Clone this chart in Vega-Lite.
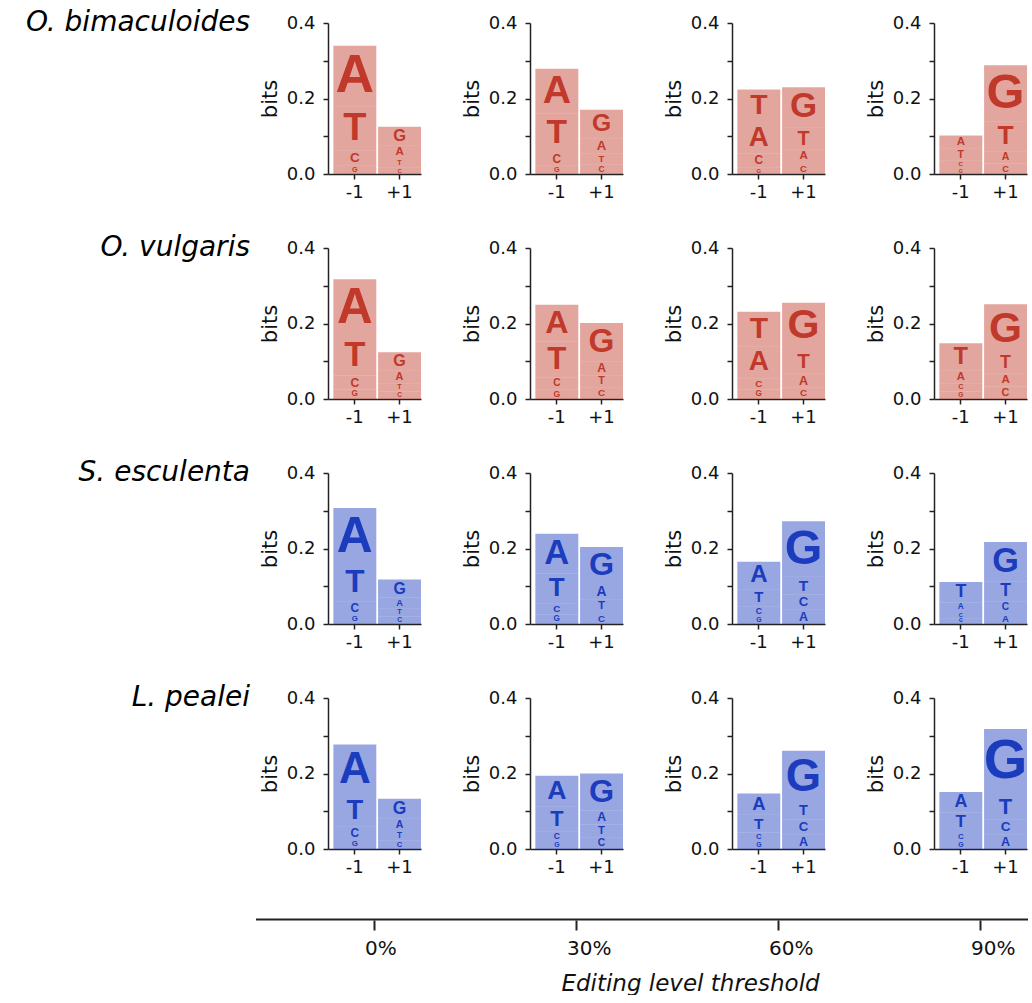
{
  "$schema": "https://vega.github.io/schema/vega-lite/v6.json",
  "background": "white",
  "padding": {"left": 25, "top": 9, "right": 0, "bottom": 0},
  "config": {
    "view": {"stroke": null},
    "font": "DejaVu Sans",
    "axis": {"domainColor": "#222", "tickColor": "#222", "labelColor": "#111", "titleColor": "#111", "domainWidth": 1.5, "tickWidth": 1.5, "grid": false, "labelFont": "DejaVu Sans", "titleFont": "DejaVu Sans"}
  },
  "spacing": 40,
  "vconcat": [
    {
      "data": {"values": [
        {"species": "O. bimaculoides", "threshold": "0%", "pos": "-1", "base": "A", "bits": 0.162},
        {"species": "O. bimaculoides", "threshold": "0%", "pos": "-1", "base": "T", "bits": 0.115},
        {"species": "O. bimaculoides", "threshold": "0%", "pos": "-1", "base": "C", "bits": 0.041},
        {"species": "O. bimaculoides", "threshold": "0%", "pos": "-1", "base": "G", "bits": 0.022},
        {"species": "O. bimaculoides", "threshold": "0%", "pos": "+1", "base": "G", "bits": 0.050},
        {"species": "O. bimaculoides", "threshold": "0%", "pos": "+1", "base": "A", "bits": 0.035},
        {"species": "O. bimaculoides", "threshold": "0%", "pos": "+1", "base": "T", "bits": 0.022},
        {"species": "O. bimaculoides", "threshold": "0%", "pos": "+1", "base": "C", "bits": 0.018},
        {"species": "O. bimaculoides", "threshold": "30%", "pos": "-1", "base": "A", "bits": 0.119},
        {"species": "O. bimaculoides", "threshold": "30%", "pos": "-1", "base": "T", "bits": 0.102},
        {"species": "O. bimaculoides", "threshold": "30%", "pos": "-1", "base": "C", "bits": 0.036},
        {"species": "O. bimaculoides", "threshold": "30%", "pos": "-1", "base": "G", "bits": 0.022},
        {"species": "O. bimaculoides", "threshold": "30%", "pos": "+1", "base": "G", "bits": 0.075},
        {"species": "O. bimaculoides", "threshold": "30%", "pos": "+1", "base": "A", "bits": 0.040},
        {"species": "O. bimaculoides", "threshold": "30%", "pos": "+1", "base": "T", "bits": 0.029},
        {"species": "O. bimaculoides", "threshold": "30%", "pos": "+1", "base": "C", "bits": 0.026},
        {"species": "O. bimaculoides", "threshold": "60%", "pos": "-1", "base": "T", "bits": 0.086},
        {"species": "O. bimaculoides", "threshold": "60%", "pos": "-1", "base": "A", "bits": 0.084},
        {"species": "O. bimaculoides", "threshold": "60%", "pos": "-1", "base": "C", "bits": 0.036},
        {"species": "O. bimaculoides", "threshold": "60%", "pos": "-1", "base": "G", "bits": 0.018},
        {"species": "O. bimaculoides", "threshold": "60%", "pos": "+1", "base": "G", "bits": 0.106},
        {"species": "O. bimaculoides", "threshold": "60%", "pos": "+1", "base": "T", "bits": 0.060},
        {"species": "O. bimaculoides", "threshold": "60%", "pos": "+1", "base": "A", "bits": 0.035},
        {"species": "O. bimaculoides", "threshold": "60%", "pos": "+1", "base": "C", "bits": 0.029},
        {"species": "O. bimaculoides", "threshold": "90%", "pos": "-1", "base": "A", "bits": 0.035},
        {"species": "O. bimaculoides", "threshold": "90%", "pos": "-1", "base": "T", "bits": 0.032},
        {"species": "O. bimaculoides", "threshold": "90%", "pos": "-1", "base": "C", "bits": 0.019},
        {"species": "O. bimaculoides", "threshold": "90%", "pos": "-1", "base": "G", "bits": 0.016},
        {"species": "O. bimaculoides", "threshold": "90%", "pos": "+1", "base": "G", "bits": 0.148},
        {"species": "O. bimaculoides", "threshold": "90%", "pos": "+1", "base": "T", "bits": 0.080},
        {"species": "O. bimaculoides", "threshold": "90%", "pos": "+1", "base": "A", "bits": 0.032},
        {"species": "O. bimaculoides", "threshold": "90%", "pos": "+1", "base": "C", "bits": 0.028},
        {"species": "O. vulgaris", "threshold": "0%", "pos": "-1", "base": "A", "bits": 0.150},
        {"species": "O. vulgaris", "threshold": "0%", "pos": "-1", "base": "T", "bits": 0.105},
        {"species": "O. vulgaris", "threshold": "0%", "pos": "-1", "base": "C", "bits": 0.037},
        {"species": "O. vulgaris", "threshold": "0%", "pos": "-1", "base": "G", "bits": 0.025},
        {"species": "O. vulgaris", "threshold": "0%", "pos": "+1", "base": "G", "bits": 0.049},
        {"species": "O. vulgaris", "threshold": "0%", "pos": "+1", "base": "A", "bits": 0.033},
        {"species": "O. vulgaris", "threshold": "0%", "pos": "+1", "base": "T", "bits": 0.022},
        {"species": "O. vulgaris", "threshold": "0%", "pos": "+1", "base": "C", "bits": 0.020},
        {"species": "O. vulgaris", "threshold": "30%", "pos": "-1", "base": "A", "bits": 0.098},
        {"species": "O. vulgaris", "threshold": "30%", "pos": "-1", "base": "T", "bits": 0.095},
        {"species": "O. vulgaris", "threshold": "30%", "pos": "-1", "base": "C", "bits": 0.031},
        {"species": "O. vulgaris", "threshold": "30%", "pos": "-1", "base": "G", "bits": 0.026},
        {"species": "O. vulgaris", "threshold": "30%", "pos": "+1", "base": "G", "bits": 0.101},
        {"species": "O. vulgaris", "threshold": "30%", "pos": "+1", "base": "A", "bits": 0.037},
        {"species": "O. vulgaris", "threshold": "30%", "pos": "+1", "base": "T", "bits": 0.033},
        {"species": "O. vulgaris", "threshold": "30%", "pos": "+1", "base": "C", "bits": 0.030},
        {"species": "O. vulgaris", "threshold": "60%", "pos": "-1", "base": "T", "bits": 0.091},
        {"species": "O. vulgaris", "threshold": "60%", "pos": "-1", "base": "A", "bits": 0.085},
        {"species": "O. vulgaris", "threshold": "60%", "pos": "-1", "base": "C", "bits": 0.030},
        {"species": "O. vulgaris", "threshold": "60%", "pos": "-1", "base": "G", "bits": 0.025},
        {"species": "O. vulgaris", "threshold": "60%", "pos": "+1", "base": "G", "bits": 0.125},
        {"species": "O. vulgaris", "threshold": "60%", "pos": "+1", "base": "T", "bits": 0.062},
        {"species": "O. vulgaris", "threshold": "60%", "pos": "+1", "base": "A", "bits": 0.038},
        {"species": "O. vulgaris", "threshold": "60%", "pos": "+1", "base": "C", "bits": 0.030},
        {"species": "O. vulgaris", "threshold": "90%", "pos": "-1", "base": "T", "bits": 0.072},
        {"species": "O. vulgaris", "threshold": "90%", "pos": "-1", "base": "A", "bits": 0.034},
        {"species": "O. vulgaris", "threshold": "90%", "pos": "-1", "base": "C", "bits": 0.022},
        {"species": "O. vulgaris", "threshold": "90%", "pos": "-1", "base": "G", "bits": 0.020},
        {"species": "O. vulgaris", "threshold": "90%", "pos": "+1", "base": "G", "bits": 0.129},
        {"species": "O. vulgaris", "threshold": "90%", "pos": "+1", "base": "T", "bits": 0.054},
        {"species": "O. vulgaris", "threshold": "90%", "pos": "+1", "base": "A", "bits": 0.035},
        {"species": "O. vulgaris", "threshold": "90%", "pos": "+1", "base": "C", "bits": 0.033},
        {"species": "S. esculenta", "threshold": "0%", "pos": "-1", "base": "A", "bits": 0.151},
        {"species": "S. esculenta", "threshold": "0%", "pos": "-1", "base": "T", "bits": 0.096},
        {"species": "S. esculenta", "threshold": "0%", "pos": "-1", "base": "C", "bits": 0.036},
        {"species": "S. esculenta", "threshold": "0%", "pos": "-1", "base": "G", "bits": 0.024},
        {"species": "S. esculenta", "threshold": "0%", "pos": "+1", "base": "G", "bits": 0.048},
        {"species": "S. esculenta", "threshold": "0%", "pos": "+1", "base": "A", "bits": 0.028},
        {"species": "S. esculenta", "threshold": "0%", "pos": "+1", "base": "T", "bits": 0.022},
        {"species": "S. esculenta", "threshold": "0%", "pos": "+1", "base": "C", "bits": 0.020},
        {"species": "S. esculenta", "threshold": "30%", "pos": "-1", "base": "A", "bits": 0.105},
        {"species": "S. esculenta", "threshold": "30%", "pos": "-1", "base": "T", "bits": 0.079},
        {"species": "S. esculenta", "threshold": "30%", "pos": "-1", "base": "C", "bits": 0.030},
        {"species": "S. esculenta", "threshold": "30%", "pos": "-1", "base": "G", "bits": 0.025},
        {"species": "S. esculenta", "threshold": "30%", "pos": "+1", "base": "G", "bits": 0.098},
        {"species": "S. esculenta", "threshold": "30%", "pos": "+1", "base": "A", "bits": 0.042},
        {"species": "S. esculenta", "threshold": "30%", "pos": "+1", "base": "T", "bits": 0.035},
        {"species": "S. esculenta", "threshold": "30%", "pos": "+1", "base": "C", "bits": 0.029},
        {"species": "S. esculenta", "threshold": "60%", "pos": "-1", "base": "A", "bits": 0.073},
        {"species": "S. esculenta", "threshold": "60%", "pos": "-1", "base": "T", "bits": 0.045},
        {"species": "S. esculenta", "threshold": "60%", "pos": "-1", "base": "C", "bits": 0.026},
        {"species": "S. esculenta", "threshold": "60%", "pos": "-1", "base": "G", "bits": 0.021},
        {"species": "S. esculenta", "threshold": "60%", "pos": "+1", "base": "G", "bits": 0.147},
        {"species": "S. esculenta", "threshold": "60%", "pos": "+1", "base": "T", "bits": 0.047},
        {"species": "S. esculenta", "threshold": "60%", "pos": "+1", "base": "C", "bits": 0.040},
        {"species": "S. esculenta", "threshold": "60%", "pos": "+1", "base": "A", "bits": 0.038},
        {"species": "S. esculenta", "threshold": "90%", "pos": "-1", "base": "T", "bits": 0.054},
        {"species": "S. esculenta", "threshold": "90%", "pos": "-1", "base": "A", "bits": 0.025},
        {"species": "S. esculenta", "threshold": "90%", "pos": "-1", "base": "C", "bits": 0.017},
        {"species": "S. esculenta", "threshold": "90%", "pos": "-1", "base": "G", "bits": 0.015},
        {"species": "S. esculenta", "threshold": "90%", "pos": "+1", "base": "G", "bits": 0.104},
        {"species": "S. esculenta", "threshold": "90%", "pos": "+1", "base": "T", "bits": 0.053},
        {"species": "S. esculenta", "threshold": "90%", "pos": "+1", "base": "C", "bits": 0.031},
        {"species": "S. esculenta", "threshold": "90%", "pos": "+1", "base": "A", "bits": 0.029},
        {"species": "L. pealei", "threshold": "0%", "pos": "-1", "base": "A", "bits": 0.134},
        {"species": "L. pealei", "threshold": "0%", "pos": "-1", "base": "T", "bits": 0.083},
        {"species": "L. pealei", "threshold": "0%", "pos": "-1", "base": "C", "bits": 0.036},
        {"species": "L. pealei", "threshold": "0%", "pos": "-1", "base": "G", "bits": 0.024},
        {"species": "L. pealei", "threshold": "0%", "pos": "+1", "base": "G", "bits": 0.053},
        {"species": "L. pealei", "threshold": "0%", "pos": "+1", "base": "A", "bits": 0.032},
        {"species": "L. pealei", "threshold": "0%", "pos": "+1", "base": "T", "bits": 0.025},
        {"species": "L. pealei", "threshold": "0%", "pos": "+1", "base": "C", "bits": 0.023},
        {"species": "L. pealei", "threshold": "30%", "pos": "-1", "base": "A", "bits": 0.081},
        {"species": "L. pealei", "threshold": "30%", "pos": "-1", "base": "T", "bits": 0.066},
        {"species": "L. pealei", "threshold": "30%", "pos": "-1", "base": "C", "bits": 0.026},
        {"species": "L. pealei", "threshold": "30%", "pos": "-1", "base": "G", "bits": 0.021},
        {"species": "L. pealei", "threshold": "30%", "pos": "+1", "base": "G", "bits": 0.098},
        {"species": "L. pealei", "threshold": "30%", "pos": "+1", "base": "A", "bits": 0.037},
        {"species": "L. pealei", "threshold": "30%", "pos": "+1", "base": "T", "bits": 0.034},
        {"species": "L. pealei", "threshold": "30%", "pos": "+1", "base": "C", "bits": 0.031},
        {"species": "L. pealei", "threshold": "60%", "pos": "-1", "base": "A", "bits": 0.056},
        {"species": "L. pealei", "threshold": "60%", "pos": "-1", "base": "T", "bits": 0.047},
        {"species": "L. pealei", "threshold": "60%", "pos": "-1", "base": "C", "bits": 0.023},
        {"species": "L. pealei", "threshold": "60%", "pos": "-1", "base": "G", "bits": 0.021},
        {"species": "L. pealei", "threshold": "60%", "pos": "+1", "base": "G", "bits": 0.138},
        {"species": "L. pealei", "threshold": "60%", "pos": "+1", "base": "T", "bits": 0.044},
        {"species": "L. pealei", "threshold": "60%", "pos": "+1", "base": "C", "bits": 0.040},
        {"species": "L. pealei", "threshold": "60%", "pos": "+1", "base": "A", "bits": 0.038},
        {"species": "L. pealei", "threshold": "90%", "pos": "-1", "base": "A", "bits": 0.054},
        {"species": "L. pealei", "threshold": "90%", "pos": "-1", "base": "T", "bits": 0.052},
        {"species": "L. pealei", "threshold": "90%", "pos": "-1", "base": "C", "bits": 0.024},
        {"species": "L. pealei", "threshold": "90%", "pos": "-1", "base": "G", "bits": 0.021},
        {"species": "L. pealei", "threshold": "90%", "pos": "+1", "base": "G", "bits": 0.172},
        {"species": "L. pealei", "threshold": "90%", "pos": "+1", "base": "T", "bits": 0.067},
        {"species": "L. pealei", "threshold": "90%", "pos": "+1", "base": "C", "bits": 0.041},
        {"species": "L. pealei", "threshold": "90%", "pos": "+1", "base": "A", "bits": 0.038}
      ]},
      "transform": [
        {"stack": "bits", "groupby": ["species", "threshold", "pos"], "sort": [{"field": "bits", "order": "ascending"}], "as": ["b0", "b1"]},
        {"calculate": "(datum.b0 + datum.b1) / 2", "as": "mid"}
      ],
      "facet": {
        "row": {"field": "species", "type": "nominal", "sort": ["O. bimaculoides", "O. vulgaris", "S. esculenta", "L. pealei"],
          "header": {"title": null, "labelAngle": 0, "labelAlign": "left", "labelAnchor": "end", "labelBaseline": "middle", "labelFont": "DejaVu Sans", "labelFontStyle": "italic", "labelFontSize": 28, "labelColor": "#000", "labelPadding": 78}},
        "column": {"field": "threshold", "type": "nominal", "sort": ["0%", "30%", "60%", "90%"], "header": {"title": null, "labels": false}}
      },
      "spacing": {"row": 74, "column": 109},
      "bounds": "flush",
      "resolve": {"axis": {"x": "independent", "y": "independent"}},
      "spec": {
        "width": 93,
        "height": 151,
        "encoding": {
          "x": {"field": "pos", "type": "nominal", "sort": ["-1", "+1"],
            "scale": {"paddingInner": 0.04, "paddingOuter": 0.06, "align": 1},
            "axis": {"title": null, "labelAngle": 0, "labelFontSize": 18, "tickSize": 5, "labelPadding": 4}},
          "color": {"field": "species", "type": "nominal",
            "scale": {"domain": ["O. bimaculoides", "O. vulgaris", "S. esculenta", "L. pealei"], "range": ["#c0392b", "#c0392b", "#1b3cbd", "#1b3cbd"]},
            "legend": null}
        },
        "layer": [
          {
            "mark": {"type": "bar", "opacity": 0.45},
            "encoding": {
              "y": {"field": "b0", "type": "quantitative", "scale": {"domain": [0, 0.4], "nice": false},
                "axis": {"title": "bits", "titleFontSize": 21, "titleFontWeight": "normal", "titlePadding": 6,
                  "values": [0, 0.1, 0.2, 0.3, 0.4],
                  "labelExpr": "round(datum.value * 10) % 2 == 0 ? format(datum.value, '.1f') : ''",
                  "labelFontSize": 18, "tickSize": 5, "labelPadding": 8, "labelOverlap": false}},
              "y2": {"field": "b1"}
            }
          },
          {
            "mark": {"type": "text", "font": "Liberation Sans", "fontWeight": "bold", "baseline": "middle"},
            "encoding": {
              "y": {"field": "mid", "type": "quantitative",
                "axis": {"title": "bits", "titleFontSize": 21, "titleFontWeight": "normal", "titlePadding": 6,
                  "values": [0, 0.1, 0.2, 0.3, 0.4],
                  "labelExpr": "round(datum.value * 10) % 2 == 0 ? format(datum.value, '.1f') : ''",
                  "labelFontSize": 18, "tickSize": 5, "labelPadding": 8, "labelOverlap": false}},
              "text": {"field": "base"},
              "size": {"field": "bits", "type": "quantitative", "scale": {"domain": [0, 0.17], "range": [0, 56], "clamp": true}, "legend": null}
            }
          }
        ]
      }
    },
    {
      "width": 700,
      "height": 1,
      "layer": [
        {
          "data": {"values": [{"level": 0}]},
          "mark": {"type": "rule", "strokeWidth": 2, "color": "#222"},
          "encoding": {
            "x": {"datum": -17.6, "type": "quantitative",
              "scale": {"domain": [-6.906, 97.06], "nice": false, "zero": false},
              "axis": {"title": "Editing level threshold", "titleFontStyle": "italic", "titleFontWeight": "normal", "titleFontSize": 23, "titleX": 362, "titlePadding": 14,
                "values": [0, 30, 60, 90], "labelExpr": "datum.value + '%'", "domain": false,
                "labelFontSize": 20, "labelAlign": "left", "labelOffset": -10, "labelPadding": 8, "labelAngle": 0,
                "tickSize": 10, "tickWidth": 2}},
            "x2": {"datum": 97.06}
          }
        },
        {
          "data": {"values": [{"level": 0}, {"level": 30}, {"level": 60}, {"level": 90}]},
          "mark": {"type": "point", "opacity": 0},
          "encoding": {
            "x": {"field": "level", "type": "quantitative",
              "axis": {"title": "Editing level threshold", "titleFontStyle": "italic", "titleFontWeight": "normal", "titleFontSize": 23, "titleX": 362, "titlePadding": 14,
                "values": [0, 30, 60, 90], "labelExpr": "datum.value + '%'", "domain": false,
                "labelFontSize": 20, "labelAlign": "left", "labelOffset": -10, "labelPadding": 8, "labelAngle": 0,
                "tickSize": 10, "tickWidth": 2}}
          }
        }
      ]
    }
  ]
}
